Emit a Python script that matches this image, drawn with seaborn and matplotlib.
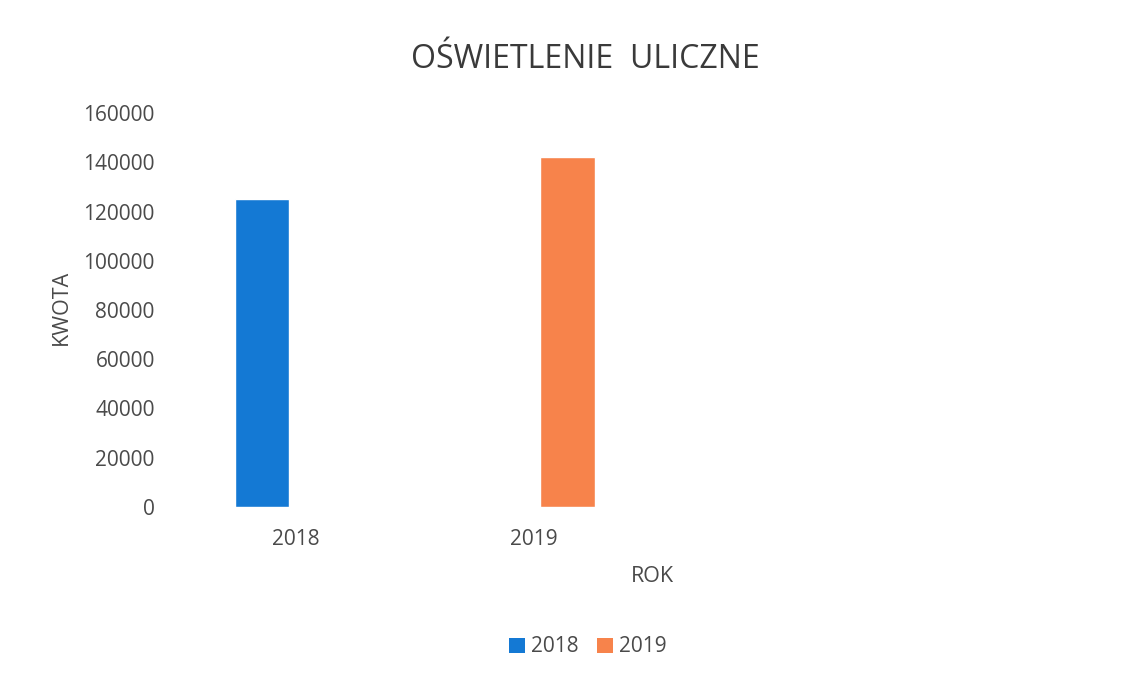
import matplotlib
matplotlib.use("Agg")
import matplotlib.pyplot as plt
import seaborn as sns
import pandas as pd
from matplotlib.patches import Patch

categories = ["2018", "2019"]
series = ["2018", "2019"]
values = [125000, 142000]
extra_slots = ["c3", "c4"]          # empty category slots on the axis
yticks = [0, 20000, 40000, 60000, 80000, 100000, 120000, 140000, 160000]
colors = ["#1479D4", "#F7834B"]

sns.set_theme(style="white")
plt.rcParams["font.family"] = ["Open Sans", "DejaVu Sans"]
txt = "#4a4a4a"

df = pd.DataFrame({"ROK": categories, "Seria": series, "KWOTA": values})

fig = plt.figure(figsize=(11.45, 6.78), dpi=100)
ax = fig.add_axes([177 / 1145, 1 - 507 / 678, (1128 - 177) / 1145, (507 - 113) / 678])

sns.barplot(data=df, x="ROK", y="KWOTA", hue="Seria",
            order=categories + extra_slots, hue_order=series,
            palette=colors, width=0.57, gap=0.2, dodge=True,
            saturation=1, legend=False, ax=ax)

ax.set_ylim(0, 160000)
ax.set_xlim(-0.5, 3.5)
ax.set_yticks(yticks)
ax.set_yticklabels([str(v) for v in yticks], fontsize=15, color=txt)
ax.set_xticks(range(4))
ax.set_xticklabels(categories + ["", ""], fontsize=15, color=txt)
ax.tick_params(axis="y", length=0, pad=16)
ax.tick_params(axis="x", length=0, pad=16)
for s in ax.spines.values():
    s.set_visible(False)
ax.set_xlabel("")
ax.set_ylabel("")

fig.text(61 / 1145, 1 - 307 / 678, "KWOTA", rotation=90, ha="center", va="center",
         fontsize=15.5, color=txt)
fig.text(652 / 1145, 1 - 577 / 678, "ROK", ha="center", va="center",
         fontsize=15.5, color=txt)
fig.text(585 / 1145, 1 - 59 / 678, "OŚWIETLENIE  ULICZNE", ha="center", va="center",
         fontsize=23, color="#3a3a3a")

handles = [Patch(facecolor=c, edgecolor="none") for c in colors]
fig.legend(handles, series, loc="center", bbox_to_anchor=(588 / 1145, 1 - 647 / 678),
           ncol=2, frameon=False, fontsize=15, labelcolor=txt,
           handlelength=0.75, handleheight=0.75, handletextpad=0.3, columnspacing=0.9)

fig.savefig("out.png", dpi=100, facecolor="white")
